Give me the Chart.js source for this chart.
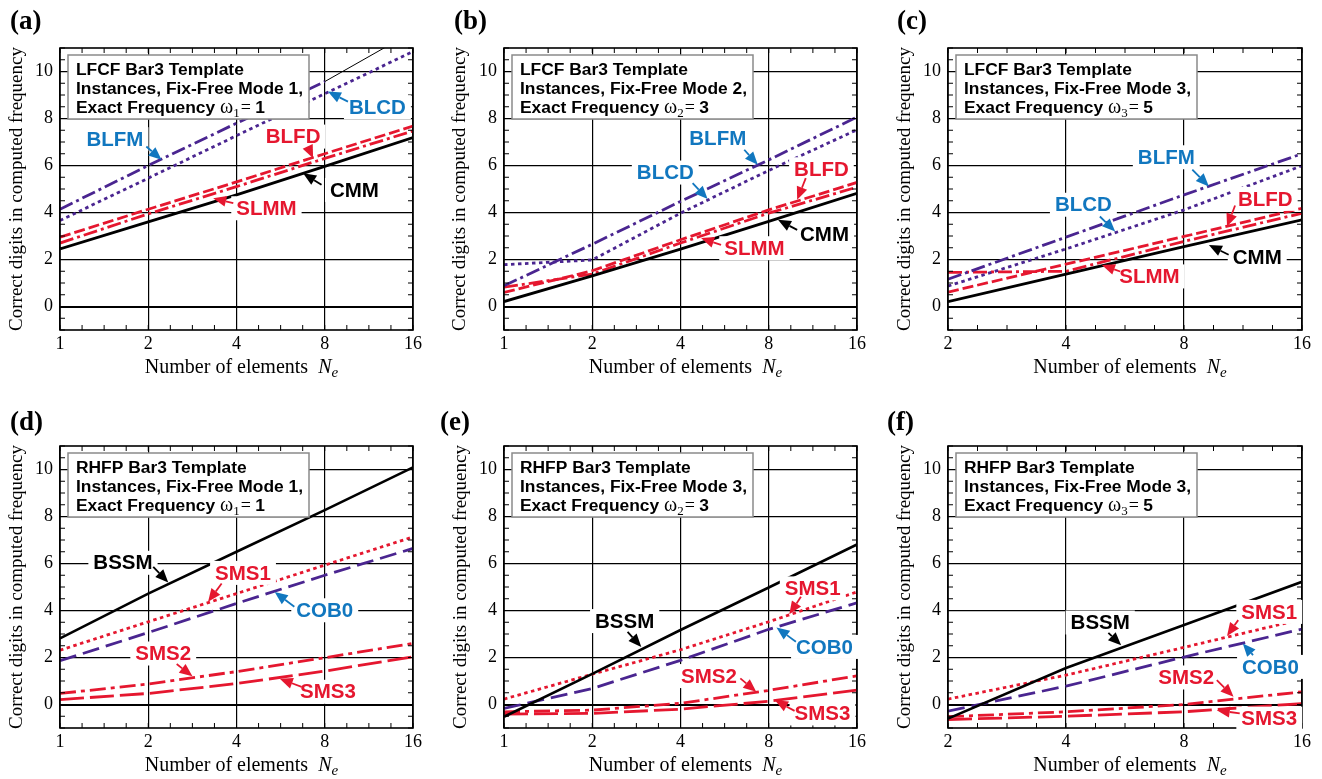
<!DOCTYPE html>
<html>
<head>
<meta charset="utf-8">
<script src="https://cdn.jsdelivr.net/npm/chart.js@4.4.1/dist/chart.umd.min.js"></script>
<style>
  body { margin: 0; background: #fff; width: 1322px; height: 779px; position: relative; overflow: hidden; }
  canvas { position: absolute; }
</style>
</head>
<body>
<canvas id="ca" width="440" height="390" style="left:0;top:0"></canvas>
<canvas id="cb" width="440" height="390" style="left:440px;top:0"></canvas>
<canvas id="cc" width="442" height="390" style="left:880px;top:0"></canvas>
<canvas id="cd" width="440" height="389" style="left:0;top:390px"></canvas>
<canvas id="ce" width="440" height="389" style="left:440px;top:390px"></canvas>
<canvas id="cf" width="442" height="389" style="left:880px;top:390px"></canvas>
<script>
// number of elements on the x axis
const NE_1_16 = [1, 2, 4, 8, 16];
const NE_2_16 = [2, 4, 8, 16];
const NE_1_8 = [1, 2, 4, 8];
const NE_8_16 = [8, 16];
const Y_TICKS = [0, 2, 4, 6, 8, 10];

// (a) LFCF, mode 1
const a_CMM = [2.45, 3.6, 4.75, 5.96, 7.19];
const a_SLMM = [2.7, 3.94, 5.1, 6.3, 7.47];
const a_BLFD = [2.95, 4.14, 5.3, 6.5, 7.68];
const a_BLFM = [4.14, 6.0, 7.8, 9.57];
const a_BLFMtail = [9.57, 11.7];
const a_BLCD = [3.66, 5.46, 7.27, 9.05, 10.85];

// (b) LFCF, mode 2
const b_CMM = [0.21, 1.3, 2.44, 3.62, 4.82];
const b_SLMM = [0.82, 1.38, 2.7, 3.97, 5.08];
const b_BLFD = [0.6, 1.52, 2.84, 4.11, 5.28];
const b_BLFM = [0.88, 2.65, 4.47, 6.24, 8.06];
const b_BLCD = [1.78, 1.98, 3.97, 5.79, 7.52];

// (c) LFCF, mode 3
const c_CMM = [0.21, 1.38, 2.55, 3.69];
const c_SLMM = [1.45, 1.5, 2.77, 3.97];
const c_BLFD = [0.61, 1.8, 2.98, 4.18];
const c_BLFM = [1.16, 2.95, 4.75, 6.5];
const c_BLCD = [0.87, 2.45, 4.11, 5.99];

// (d) RHFP, mode 1
const d_BSSM = [2.81, 4.72, 6.5, 8.27, 10.09];
const d_SMS1 = [2.31, 3.52, 4.72, 5.93, 7.13];
const d_COB0 = [1.86, 3.06, 4.3, 5.5, 6.64];
const d_SMS2 = [0.47, 0.87, 1.4, 1.99, 2.6];
const d_SMS3 = [0.21, 0.47, 0.89, 1.42, 2.03];

// (e) RHFP, omega2
const e_BSSM = [-0.52, 1.3, 3.17, 4.98, 6.81];
const e_SMS1 = [0.23, 1.29, 2.33, 3.52, 4.79];
const e_COB0 = [-0.17, 0.68, 1.88, 3.2, 4.33];
const e_SMS2 = [-0.31, -0.24, 0.05, 0.6, 1.22];
const e_SMS3 = [-0.41, -0.38, -0.2, 0.14, 0.61];

// (f) RHFP, omega3
const f_BSSM = [-0.6, 1.55, 3.38, 5.22];
const f_SMS1 = [0.23, 1.25, 2.43, 3.63];
const f_COB0 = [-0.28, 0.78, 2.02, 3.21];
const f_SMS2 = [-0.52, -0.31, 0.0, 0.54];
const f_SMS3 = [-0.64, -0.5, -0.31, 0.04];

const BLACK = '#000000', RED = '#e5172f', PURPLE = '#4a2590', BLUE = '#1177bf';
const STYLE = {
  CMM: [BLACK, 2.8, []],
  SLMM: [RED, 2.8, [14, 4, 3, 4]],
  BLFD: [RED, 2.8, [11, 4]],
  BLFM: [PURPLE, 2.8, [14, 4, 3, 4]],
  TAIL: [BLACK, 1, []],
  BLCD: [PURPLE, 2.8, [3.5, 3.5]],
  BSSM: [BLACK, 2.6, []],
  SMS1: [RED, 2.8, [3.5, 3.5]],
  COB0: [PURPLE, 2.8, [17, 7]],
  SMS2: [RED, 2.8, [16, 5, 4, 5]],
  SMS3: [RED, 2.8, [24, 6]]
};

const panels = [
  { id: 'ca', tag: '(a)', tagX: 10, tagY: 22, yW: 60, padR: 27, padT: 48, xH: 60, yTitlePad: 6,
    xMin: 1, xMax: 16, xTicks: NE_1_16,
    box: ['LFCF Bar3 Template', 'Instances, Fix-Free Mode 1,', 'Exact Frequency '], sub: '1', val: '1',
    series: [['BLCD', NE_1_16, a_BLCD], ['BLFM', NE_1_8, a_BLFM], ['TAIL', NE_8_16, a_BLFMtail],
             ['CMM', NE_1_16, a_CMM], ['SLMM', NE_1_16, a_SLMM], ['BLFD', NE_1_16, a_BLFD]],
    notes: [['BLCD', BLUE, 12.1, 8.48, 9.6, 8.72, 8.2, 9.15],
            ['BLFM', BLUE, 1.54, 7.12, 1.97, 6.81, 2.22, 6.24],
            ['BLFD', RED, 6.24, 7.23, 7.0, 6.81, 7.3, 6.31],
            ['CMM', BLACK, 10.1, 4.96, 7.8, 5.18, 6.75, 5.67],
            ['SLMM', RED, 5.06, 4.18, 3.9, 4.4, 3.33, 4.61]] },
  { id: 'cb', tag: '(b)', tagX: 14, tagY: 22, yW: 64, padR: 23, padT: 48, xH: 60, yTitlePad: 9,
    xMin: 1, xMax: 16, xTicks: NE_1_16,
    box: ['LFCF Bar3 Template', 'Instances, Fix-Free Mode 2,', 'Exact Frequency '], sub: '2', val: '3',
    series: [['BLCD', NE_1_16, b_BLCD], ['BLFM', NE_1_16, b_BLFM],
             ['CMM', NE_1_16, b_CMM], ['SLMM', NE_1_16, b_SLMM], ['BLFD', NE_1_16, b_BLFD]],
    notes: [['BLFM', BLUE, 5.36, 7.16, 6.6, 6.67, 7.34, 6.03],
            ['BLCD', BLUE, 3.55, 5.70, 4.4, 5.25, 4.95, 4.57],
            ['BLFD', RED, 12.1, 5.84, 10.7, 5.46, 10.0, 4.54],
            ['CMM', BLACK, 12.4, 3.08, 10.0, 3.26, 8.6, 3.69],
            ['SLMM', RED, 7.15, 2.48, 5.5, 2.62, 4.7, 2.91]] },
  { id: 'cc', tag: '(c)', tagX: 17, tagY: 22, yW: 68, padR: 20, padT: 48, xH: 60, yTitlePad: 14,
    xMin: 2, xMax: 16, xTicks: NE_2_16,
    box: ['LFCF Bar3 Template', 'Instances, Fix-Free Mode 3,', 'Exact Frequency '], sub: '3', val: '5',
    series: [['BLCD', NE_2_16, c_BLCD], ['BLFM', NE_2_16, c_BLFM],
             ['CMM', NE_2_16, c_CMM], ['SLMM', NE_2_16, c_SLMM], ['BLFD', NE_2_16, c_BLFD]],
    notes: [['BLFM', BLUE, 7.21, 6.35, 8.4, 5.82, 9.26, 5.11],
            ['BLCD', BLUE, 4.43, 4.33, 4.88, 3.83, 5.34, 3.19],
            ['BLFD', RED, 12.9, 4.58, 10.8, 4.30, 10.3, 3.40],
            ['CMM', BLACK, 12.3, 2.10, 10.4, 2.2, 9.26, 2.62],
            ['SLMM', RED, 6.53, 1.28, 5.5, 1.49, 4.94, 1.77]] },
  { id: 'cd', tag: '(d)', tagX: 10, tagY: 33, yW: 60, padR: 27, padT: 56, xH: 51, yTitlePad: 6,
    xMin: 1, xMax: 16, xTicks: NE_1_16,
    box: ['RHFP Bar3 Template', 'Instances, Fix-Free Mode 1,', 'Exact Frequency '], sub: '1', val: '1',
    series: [['BSSM', NE_1_16, d_BSSM], ['COB0', NE_1_16, d_COB0], ['SMS1', NE_1_16, d_SMS1],
             ['SMS2', NE_1_16, d_SMS2], ['SMS3', NE_1_16, d_SMS3]],
    notes: [['BSSM', BLACK, 1.64, 6.03, 2.08, 5.86, 2.34, 5.19],
            ['SMS1', RED, 4.21, 5.6, 3.56, 5.15, 3.2, 4.37],
            ['COB0', BLUE, 8.0, 4.01, 6.3, 4.16, 5.4, 4.79],
            ['SMS2', RED, 2.25, 2.17, 2.5, 1.72, 2.83, 1.2],
            ['SMS3', RED, 8.2, 0.54, 6.67, 0.75, 5.62, 1.1]] },
  { id: 'ce', tag: '(e)', tagX: 0, tagY: 33, yW: 64, padR: 23, padT: 56, xH: 51, yTitlePad: 10,
    xMin: 1, xMax: 16, xTicks: NE_1_16,
    box: ['RHFP Bar3 Template', 'Instances, Fix-Free Mode 3,', 'Exact Frequency '], sub: '2', val: '3',
    series: [['BSSM', NE_1_16, e_BSSM], ['COB0', NE_1_16, e_COB0], ['SMS1', NE_1_16, e_SMS1],
             ['SMS2', NE_1_16, e_SMS2], ['SMS3', NE_1_16, e_SMS3]],
    notes: [['BSSM', BLACK, 2.58, 3.55, 2.64, 3.09, 2.94, 2.45],
            ['SMS1', RED, 11.3, 4.94, 10.3, 4.58, 9.4, 3.84],
            ['COB0', BLUE, 12.4, 2.45, 9.9, 2.67, 8.5, 3.28],
            ['SMS2', RED, 5.0, 1.21, 6.4, 1.11, 7.25, 0.54],
            ['SMS3', RED, 12.2, -0.38, 9.8, -0.27, 8.4, 0.18]] },
  { id: 'cf', tag: '(f)', tagX: 7, tagY: 33, yW: 68, padR: 20, padT: 56, xH: 51, yTitlePad: 14,
    xMin: 2, xMax: 16, xTicks: NE_2_16,
    box: ['RHFP Bar3 Template', 'Instances, Fix-Free Mode 3,', 'Exact Frequency '], sub: '3', val: '5',
    series: [['BSSM', NE_2_16, f_BSSM], ['COB0', NE_2_16, f_COB0], ['SMS1', NE_2_16, f_SMS1],
             ['SMS2', NE_2_16, f_SMS2], ['SMS3', NE_2_16, f_SMS3]],
    notes: [['BSSM', BLACK, 4.89, 3.49, 5.13, 3.05, 5.53, 2.52],
            ['SMS1', RED, 13.2, 3.94, 11.0, 3.59, 10.3, 2.92],
            ['COB0', BLUE, 13.3, 1.6, 12.0, 2.1, 11.3, 2.6],
            ['SMS2', RED, 8.1, 1.15, 9.7, 1.04, 10.7, 0.33],
            ['SMS3', RED, 13.2, -0.6, 11.1, -0.38, 9.7, -0.24]] }
];

const SANS = '"Liberation Sans", Arial, sans-serif';
const SERIF = '"Liberation Serif", "Times New Roman", serif';

function drawArrow(ctx, x1, y1, x2, y2, color) {
  const ang = Math.atan2(y2 - y1, x2 - x1), hl = 13, hw = 5.5;
  const bx = x2 - hl * Math.cos(ang), by = y2 - hl * Math.sin(ang);
  ctx.strokeStyle = color; ctx.fillStyle = color; ctx.lineWidth = 1.8; ctx.setLineDash([]);
  ctx.beginPath(); ctx.moveTo(x1, y1); ctx.lineTo(bx, by); ctx.stroke();
  ctx.beginPath();
  ctx.moveTo(x2, y2);
  ctx.lineTo(bx + hw * Math.sin(ang), by - hw * Math.cos(ang));
  ctx.lineTo(bx - hw * Math.sin(ang), by + hw * Math.cos(ang));
  ctx.closePath(); ctx.fill();
}

function decor(p) {
  return {
    id: 'decor',
    afterDatasetsDraw(chart) {
      const ctx = chart.ctx, a = chart.chartArea, xs = chart.scales.x, ys = chart.scales.y;
      ctx.save();
      ctx.setLineDash([]);
      // minor ticks
      ctx.strokeStyle = '#000'; ctx.lineWidth = 1;
      ctx.beginPath();
      for (let v = -1; v <= 11.001; v += 0.5) {
        const y = ys.getPixelForValue(v);
        ctx.moveTo(a.left, y); ctx.lineTo(a.left + 5, y);
        ctx.moveTo(a.right, y); ctx.lineTo(a.right - 5, y);
      }
      for (let k = 0; ; k++) {
        const v = p.xMin * Math.pow(2, k / 4);
        if (v > p.xMax + 1e-6) break;
        const x = xs.getPixelForValue(v);
        ctx.moveTo(x, a.bottom); ctx.lineTo(x, a.bottom - 5);
        ctx.moveTo(x, a.top); ctx.lineTo(x, a.top + 5);
      }
      ctx.stroke();
      // frame
      ctx.lineWidth = 1.6;
      ctx.strokeRect(a.left, a.top, a.right - a.left, a.bottom - a.top);

      // info box
      const bx = a.left + 8, by = a.top + 7;
      ctx.fillStyle = '#fff'; ctx.fillRect(bx, by, 241, 64);
      ctx.strokeStyle = '#8a8a8a'; ctx.lineWidth = 1.5; ctx.strokeRect(bx, by, 241, 64);
      ctx.fillStyle = '#000'; ctx.textAlign = 'left'; ctx.textBaseline = 'alphabetic';
      ctx.font = 'bold 17.4px ' + SANS;
      ctx.fillText(p.box[0], bx + 8, by + 20);
      ctx.fillText(p.box[1], bx + 8, by + 39);
      let tx = bx + 8; const ty = by + 58;
      ctx.fillText(p.box[2], tx, ty); tx += ctx.measureText(p.box[2]).width;
      ctx.font = '20px ' + SERIF; ctx.fillText('\u03c9', tx, ty); tx += ctx.measureText('\u03c9').width;
      ctx.font = '13px ' + SERIF; ctx.fillText(p.sub, tx, ty + 4); tx += ctx.measureText(p.sub).width + 1;
      ctx.font = '18px ' + SERIF; ctx.fillText('= ', tx, ty); tx += ctx.measureText('= ').width;
      ctx.font = 'bold 17.4px ' + SANS; ctx.fillText(p.val, tx, ty);

      // curve labels and arrows
      ctx.font = 'bold 20.5px ' + SANS;
      const items = p.notes.map(n => ({
        n, lx: xs.getPixelForValue(n[2]), ly: ys.getPixelForValue(n[3]),
        w: ctx.measureText(n[0]).width
      }));
      ctx.fillStyle = '#fff';
      items.forEach(it => ctx.fillRect(it.lx - it.w / 2 - 5, it.ly - 12, it.w + 10, 24));
      items.forEach(it => {
        const n = it.n;
        drawArrow(ctx, xs.getPixelForValue(n[4]), ys.getPixelForValue(n[5]),
                  xs.getPixelForValue(n[6]), ys.getPixelForValue(n[7]), n[1]);
      });
      ctx.textAlign = 'center'; ctx.textBaseline = 'middle';
      items.forEach(it => { ctx.fillStyle = it.n[1]; ctx.fillText(it.n[0], it.lx, it.ly + 1); });

      // x axis title
      ctx.fillStyle = '#000'; ctx.textAlign = 'left'; ctx.textBaseline = 'alphabetic';
      const t1 = 'Number of elements  ';
      ctx.font = '20px ' + SERIF; const w1 = ctx.measureText(t1).width;
      ctx.font = 'italic 20px ' + SERIF; const w2 = ctx.measureText('N').width;
      ctx.font = 'italic 15px ' + SERIF; const w3 = ctx.measureText('e').width;
      let x0 = (a.left + a.right) / 2 + 5 - (w1 + w2 + w3) / 2;
      const y0 = a.bottom + 43;
      ctx.font = '20px ' + SERIF; ctx.fillText(t1, x0, y0); x0 += w1;
      ctx.font = 'italic 20px ' + SERIF; ctx.fillText('N', x0, y0); x0 += w2;
      ctx.font = 'italic 15px ' + SERIF; ctx.fillText('e', x0, y0 + 4);

      // panel tag
      ctx.font = 'bold 27px ' + SERIF; ctx.textBaseline = 'middle';
      ctx.fillText(p.tag, p.tagX, p.tagY);
      ctx.restore();
    }
  };
}

panels.forEach(p => {
  const datasets = p.series.map(s => {
    const st = STYLE[s[0]];
    return {
      label: s[0],
      data: s[1].map((ne, i) => ({ x: ne, y: s[2][i] })),
      borderColor: st[0], borderWidth: st[1], borderDash: st[2],
      pointRadius: 0, fill: false, tension: 0
    };
  });
  new Chart(document.getElementById(p.id).getContext('2d'), {
    type: 'line',
    data: { datasets },
    plugins: [decor(p)],
    options: {
      responsive: false,
      animation: false,
      events: [],
      layout: { padding: { left: 0, right: p.padR, top: p.padT, bottom: 0 } },
      plugins: { legend: { display: false }, tooltip: { enabled: false } },
      scales: {
        x: {
          type: 'logarithmic', min: p.xMin, max: p.xMax,
          afterBuildTicks: s => { s.ticks = p.xTicks.map(v => ({ value: v })); },
          afterFit: s => { s.height = p.xH; },
          grid: { color: '#000', lineWidth: 1.2, drawTicks: false },
          border: { display: false },
          ticks: { color: '#000', font: { family: SERIF, size: 18 }, padding: 3,
                   maxRotation: 0, autoSkip: false, callback: v => String(v) }
        },
        y: {
          min: -1, max: 11,
          afterBuildTicks: s => { s.ticks = Y_TICKS.map(v => ({ value: v })); },
          afterFit: s => { s.width = p.yW; },
          grid: { color: '#000', lineWidth: c => (c.tick && c.tick.value === 0 ? 2 : 1.2), drawTicks: false },
          border: { display: false },
          ticks: { color: '#000', font: { family: SERIF, size: 18 }, padding: 7 },
          title: { display: true, text: 'Correct digits in computed frequency', color: '#000',
                   font: { family: SERIF, size: 19 }, padding: { top: p.yTitlePad, bottom: 0 } }
        }
      }
    }
  });
});
</script>
</body>
</html>
